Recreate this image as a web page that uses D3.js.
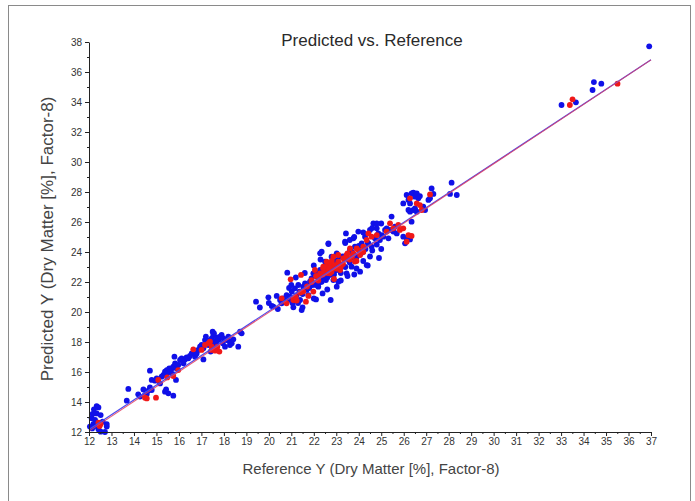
<!DOCTYPE html>
<html>
<head>
<meta charset="utf-8">
<script src="https://cdn.jsdelivr.net/npm/d3@7/dist/d3.min.js"></script>
<style>
  html, body { margin: 0; padding: 0; background: #fff; }
  svg { display: block; }
</style>
</head>
<body>
<svg id="chart" width="695" height="501"></svg>
<script>
// ---- Data (reference value, predicted value) ----
const bluePoints = [
  // 12-13
  [12.34,13.73],[12.22,13.51],[12.42,13.64],[12.16,13.2],[12.34,13.24],[12.12,12.91],[12.52,13.13],[12.27,12.8],[12.19,12.53],[12.04,12.36],[12.31,12.4],[12.42,12.18],[12.52,12.02],[12.71,12.0],[12.79,12.53],[12.79,12.36],[12.61,12.69],[12.14,12.24],
  // 13.5-16
  [13.68,14.09],[13.75,14.87],[14.19,14.51],[14.27,14.36],[14.42,14.84],[14.49,14.47],[14.64,14.76],[14.71,14.98],[14.79,14.8],[14.57,14.53],[15.38,14.69],[15.53,14.58],[15.75,14.42],[15.43,14.84],
  [14.71,16.09],[14.79,15.47],[14.94,15.42],[15.01,15.58],[15.16,15.24],[15.23,15.69],[15.31,15.8],[15.38,16.02],[15.46,16.13],[15.48,15.91],[15.57,16.24],[15.60,16.02],[15.68,16.24],[15.72,15.87],[15.75,16.36],[15.80,17.02],[15.83,16.58],[15.87,15.47],[15.90,16.24],[15.97,16.47],[16.05,16.8],[16.12,16.91],[16.20,16.58],[16.27,16.84],[16.34,16.98],[16.42,16.91],[16.49,17.07],[16.57,17.24],[16.72,17.02],[16.79,17.24],
  // 17-19
  [16.86,17.47],[16.94,17.69],[17.01,17.8],[17.09,17.58],[17.16,18.13],[17.20,18.36],[17.23,17.96],[17.31,17.8],[17.38,18.13],[17.46,18.24],[17.50,18.69],[17.53,18.47],[17.56,18.02],[17.61,17.69],[17.65,17.91],[17.68,18.31],[17.75,18.13],[17.83,18.36],[17.90,18.47],[17.95,17.91],[17.98,18.24],[18.05,17.69],[18.12,18.13],[18.20,18.36],[18.27,18.02],[18.35,17.91],[18.42,18.18],[18.27,17.8],[18.64,17.69],[18.72,18.69],[18.79,18.58],[17.09,16.84],[17.41,17.36],[17.56,18.58],
  // 19-23
  [19.43,20.69],[19.98,20.98],[20.13,20.4],[20.20,20.36],[20.35,21.07],[20.50,20.8],[20.57,20.58],[20.64,20.91],[20.72,20.69],[20.79,21.13],[20.82,22.62],[20.87,20.8],[20.94,21.02],[21.02,21.36],[21.06,20.58],[21.09,20.31],[21.16,21.58],[21.24,21.13],[21.31,21.8],[21.36,21.36],[21.39,20.8],[21.46,20.13],[21.50,20.31],[21.53,21.69],[21.61,21.91],[21.68,21.47],[21.76,21.13],[21.83,22.02],[21.90,22.24],[21.95,21.8],[21.98,22.58],[22.05,21.91],[22.10,20.84],[22.13,22.36],[22.20,21.69],[22.28,23.91],[22.28,22.8],[22.35,22.02],[22.39,21.24],[22.42,22.47],[22.50,23.02],[22.54,22.13],[22.57,22.69],[22.65,24.53],[22.69,23.24],[22.72,22.47],[22.75,20.8],[22.79,22.91],[22.87,22.13],[22.94,23.47],[23.02,22.8],[23.09,23.13],[23.02,21.69],[23.14,23.69],[23.17,23.02],
  // 22-26
  [22.35,24.02],[22.42,22.24],[22.50,23.36],[22.57,22.8],[22.65,24.58],[22.72,23.02],[22.79,23.69],[22.87,22.58],[22.94,23.36],[23.02,23.91],[23.09,22.02],[23.17,23.02],[23.24,23.69],[23.39,24.69],[23.43,25.24],[23.46,22.58],[23.54,23.47],[23.61,24.13],[23.68,23.02],[23.76,24.91],[23.83,24.36],[23.91,23.69],[23.98,25.36],[24.06,22.69],[24.13,24.58],[24.20,24.02],[24.28,25.02],[24.35,23.13],[24.43,24.58],[24.50,25.47],[24.57,24.36],[24.65,25.91],[24.72,24.91],[24.80,25.58],[24.87,25.24],[24.94,24.8],[25.02,25.13],[25.09,25.02],[25.17,25.47],[25.24,25.58],[25.32,24.91],[25.39,25.47],[25.46,26.36],[25.54,25.36],[25.61,25.69],[25.69,25.24],
  [22.3,22.0],[22.6,22.3],[22.9,22.5],[23.2,22.6],[23.4,23.0],[23.6,23.3],[23.8,23.6],[24.1,23.9],[24.3,24.2],[24.6,24.1],[22.2,22.6],[22.5,22.9],[23.0,23.4],[23.3,23.7],[23.7,24.0],[24.0,24.4],[24.4,24.6],[24.8,24.5],[23.5,22.4],[23.9,22.9],[24.2,23.4],[24.5,23.7],[21.8,21.6],[22.1,21.8],[21.5,21.2],
  [21.2,22.3],[21.0,21.8],[21.6,22.6],[22.0,23.1],[22.3,23.5],[23.4,24.6],[23.8,25.0],[24.2,25.3],[24.6,25.6],[25.0,25.9],[22.0,20.9],[22.6,21.5],[23.2,22.1],[23.8,22.5],[24.4,23.1],[25.0,24.2],[24.9,23.6],[21.3,20.6],[20.4,20.2],[20.0,20.6],[19.6,20.3],[20.9,21.6],[23.6,24.8],[24.8,25.9],
  // 26-28.5
  [26.13,27.8],[26.21,27.47],[26.28,27.24],[26.35,27.91],[26.43,27.96],[26.50,27.69],[26.58,27.91],[26.65,27.58],[26.72,27.73],[26.21,26.8],[26.28,26.69],[26.43,26.8],[26.50,26.91],[26.58,26.69],[26.87,27.02],[26.95,26.8],[27.10,27.47],[27.17,27.58],[27.24,28.24],[27.32,27.87],[28.13,28.62],[28.06,27.87],[28.36,27.8],[25.98,27.24],[26.35,26.02],[25.98,25.02],[26.13,24.91],[26.28,24.84],[26.06,24.58],
  // 33-37
  [33.02,33.8],[33.66,33.98],[34.40,34.8],[34.46,35.33],[34.79,35.22],[36.92,37.71]
];
const redPoints = [
  [12.42,12.62],[12.52,12.53],[12.47,12.40],
  [14.49,14.29],[14.98,14.29],[14.57,14.24],
  [15.08,15.47],[15.48,15.64],[15.75,15.73],[15.97,16.13],
  [16.64,17.51],[17.01,17.47],[17.16,17.8],[17.31,17.91],[17.38,18.02],[17.46,17.47],[17.53,17.51],[17.61,17.42],[17.68,17.47],[17.71,17.69],[17.80,17.36],[17.46,17.69],
  [20.57,20.91],[20.79,20.58],[20.97,22.18],[21.09,20.8],[21.24,20.76],[21.43,22.47],[21.53,21.36],[21.65,20.69],[21.76,21.07],[21.90,22.13],[21.98,21.36],[22.05,22.8],[22.20,22.36],[22.28,22.58],[22.42,22.91],[22.50,22.69],[22.57,23.02],[22.65,22.8],[22.72,23.24],[22.79,22.69],[22.87,23.02],[22.94,23.13],[23.02,22.91],[23.09,23.36],
  [22.42,23.02],[22.57,23.36],[22.72,22.58],[22.87,23.69],[23.02,23.13],[23.09,23.8],[23.17,22.8],[23.31,23.58],[23.46,23.8],[23.61,24.24],[23.76,23.91],[23.83,23.36],[23.91,24.24],[24.06,23.8],[24.20,24.36],[24.35,24.8],[24.43,25.24],[24.57,25.02],[24.80,25.13],[25.24,25.36],[25.39,25.91],[25.54,25.58],[25.76,25.8],[25.83,25.47],
  [22.4,22.5],[22.7,22.9],[23.0,22.9],[23.3,23.2],[23.6,23.5],[23.9,23.4],[22.2,22.1],[22.9,22.2],[23.5,23.9],[24.0,24.1],[21.7,21.7],[21.9,22.0],
  [22.1,22.4],[22.6,22.6],[23.2,23.0],[23.7,23.7],[24.2,24.0],[22.8,23.4],[23.4,23.6],[21.4,21.3],[21.2,21.0],
  [26.28,27.58],[26.58,27.24],[26.72,27.13],[26.80,26.8],[27.17,27.84],[25.98,25.58],[26.21,25.13],[26.13,24.69],[26.35,25.07],
  [33.39,33.8],[33.51,34.18],[35.51,35.22]
];
// Regression lines: [slope, intercept]
const blueFit = [0.986, 0.34];
const redFit = [0.990, 0.18];

const xTicks = d3.range(12, 38, 1);
const xMinorTicks = d3.range(12.5, 37, 1);
const yTicks = d3.range(12, 39, 2);
const yMinorTicks = d3.range(13, 38, 2);

const titleText = "Predicted vs. Reference";
const xTitle = "Reference Y (Dry Matter [%], Factor-8)";
const yTitle = "Predicted Y (Dry Matter [%], Factor-8)";

// ---- Drawing ----
const svg = d3.select("#chart");
const font = "'Liberation Sans', Arial, sans-serif";

svg.append("rect")
  .attr("x", 8.5).attr("y", 5.5).attr("width", 682).attr("height", 520)
  .attr("fill", "none").attr("stroke", "#8a8a8a").attr("stroke-width", 1);

const x = d3.scaleLinear().domain([12, 37]).range([89, 651]);
const y = d3.scaleLinear().domain([12, 38]).range([432, 42]);

// Points
const pts = svg.append("g");
pts.selectAll("circle.b").data(bluePoints).join("circle")
  .attr("class", "b")
  .attr("cx", d => x(d[0])).attr("cy", d => y(d[1])).attr("r", 2.9)
  .attr("fill", "#1010e8");
pts.selectAll("circle.r").data(redPoints).join("circle")
  .attr("class", "r")
  .attr("cx", d => x(d[0])).attr("cy", d => y(d[1])).attr("r", 2.9)
  .attr("fill", "#f01818");

// Fit lines
function fitLine(fit) {
  const x0 = Math.max(12, (12 - fit[1]) / fit[0]);
  const x1 = 37;
  return [[x0, fit[0] * x0 + fit[1]], [x1, fit[0] * x1 + fit[1]]];
}
const lineGen = d3.line().x(d => x(d[0])).y(d => y(d[1]));
svg.append("path").attr("d", lineGen(fitLine(blueFit)))
  .attr("fill", "none").attr("stroke", "#4a4af0").attr("stroke-width", 1.2);
svg.append("path").attr("d", lineGen(fitLine(redFit)))
  .attr("fill", "none").attr("stroke", "#e04060").attr("stroke-width", 1.1).attr("opacity", 0.85);

// Axes
const xAxis = svg.append("g").attr("transform", "translate(0,432)")
  .call(d3.axisBottom(x).tickValues(xTicks).tickSize(4).tickSizeOuter(0).tickPadding(2).tickFormat(d3.format("d")));
const xMinor = svg.append("g").attr("transform", "translate(0,432)")
  .call(d3.axisBottom(x).tickValues(xMinorTicks).tickSize(2).tickSizeOuter(0).tickFormat(""));
xMinor.select(".domain").remove();

const yAxis = svg.append("g").attr("transform", "translate(89,0)")
  .call(d3.axisLeft(y).tickValues(yTicks).tickSize(4).tickSizeOuter(0).tickPadding(3).tickFormat(d3.format("d")));
const yMinor = svg.append("g").attr("transform", "translate(89,0)")
  .call(d3.axisLeft(y).tickValues(yMinorTicks).tickSize(2).tickSizeOuter(0).tickFormat(""));
yMinor.select(".domain").remove();

svg.selectAll(".domain, .tick line").attr("stroke", "#222").attr("stroke-width", 1);
svg.selectAll(".tick text").attr("font-family", font).attr("font-size", 10).attr("fill", "#333");

// Titles
svg.append("text").attr("x", 372).attr("y", 46).attr("text-anchor", "middle")
  .attr("font-family", font).attr("font-size", 17).attr("fill", "#2a2a2a").text(titleText);
svg.append("text").attr("x", 371).attr("y", 474).attr("text-anchor", "middle")
  .attr("font-family", font).attr("font-size", 15).attr("fill", "#444").text(xTitle);
svg.append("text").attr("transform", "translate(53,239) rotate(-90)").attr("text-anchor", "middle")
  .attr("font-family", font).attr("font-size", 17).attr("fill", "#444").text(yTitle);
</script>
</body>
</html>
